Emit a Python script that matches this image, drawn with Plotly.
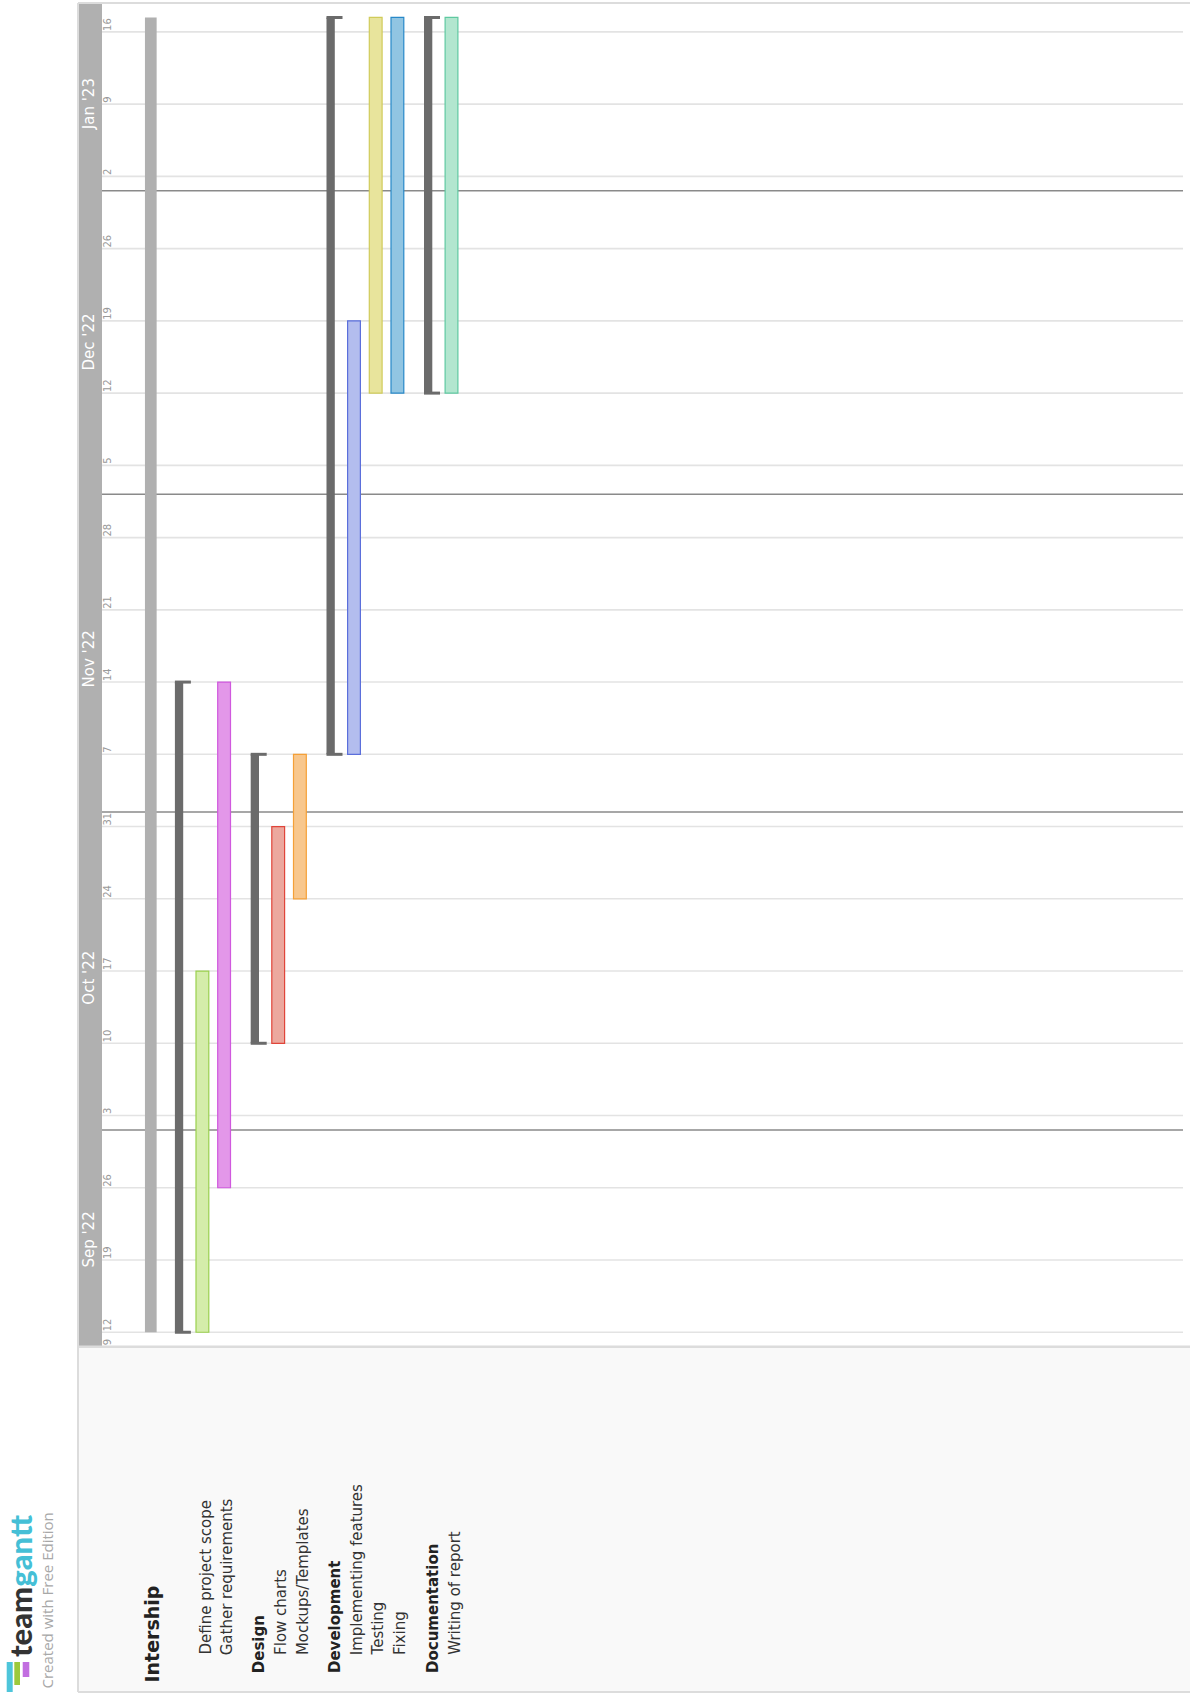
import plotly.graph_objects as go
import pandas as pd

W, H = 1190, 1695

# ---------------- data ----------------
row_names = ["Intership", "", "Define project scope", "Gather requirements",
             "Design", "Flow charts", "Mockups/Templates",
             "Development", "Implementing features", "Testing", "Fixing",
             "Documentation", "Writing of report"]
row_kinds = ["project", "group", "task", "task",
             "group", "task", "task",
             "group", "task", "task", "task",
             "group", "task"]
row_starts = ["2022-09-12", "2022-09-12", "2022-09-12", "2022-09-26",
              "2022-10-10", "2022-10-10", "2022-10-24",
              "2022-11-07", "2022-11-07", "2022-12-12", "2022-12-12",
              "2022-12-12", "2022-12-12"]
row_last_days = ["2023-01-16", "2022-11-11", "2022-10-14", "2022-11-11",
                 "2022-11-04", "2022-10-28", "2022-11-04",
                 "2023-01-16", "2022-12-16", "2023-01-16", "2023-01-16",
                 "2023-01-16", "2023-01-16"]
fill_colors = ["#b0b0b0", "#6b6b6b", "#d4edaa", "#e397e9",
               "#6b6b6b", "#eca89e", "#f8c78d",
               "#6b6b6b", "#b3bdee", "#e8e49c", "#91c5e2",
               "#6b6b6b", "#b2e6cf"]
line_colors = ["#b0b0b0", "#6b6b6b", "#9ad04e", "#d058de",
               "#6b6b6b", "#e0453a", "#f5a037",
               "#6b6b6b", "#5b6fdb", "#d0cb5a", "#2788c8",
               "#6b6b6b", "#5fc9a1"]

week_label_dates = ["2022-09-09", "2022-09-12", "2022-09-19", "2022-09-26",
                    "2022-10-03", "2022-10-10", "2022-10-17", "2022-10-24",
                    "2022-10-31", "2022-11-07", "2022-11-14", "2022-11-21",
                    "2022-11-28", "2022-12-05", "2022-12-12", "2022-12-19",
                    "2022-12-26", "2023-01-02", "2023-01-09", "2023-01-16"]
week_labels = ["9", "12", "19", "26", "3", "10", "17", "24", "31", "7", "14",
               "21", "28", "5", "12", "19", "26", "2", "9", "16"]
month_names = ["Sep '22", "Oct '22", "Nov '22", "Dec '22", "Jan '23"]
month_label_dates = ["2022-09-20 10:00", "2022-10-14 13:00", "2022-11-15 13:30",
                     "2022-12-15 12:00", "2023-01-09 00:00"]
month_divider_dates = ["2022-09-30", "2022-11-01", "2022-12-01", "2022-12-30"]
axis_start, axis_end = "2022-09-09", "2023-01-18"

# ---------------- layout helpers ----------------
PLOT_TOP, PLOT_BOTTOM, FRAME_BOTTOM = 3, 1346.7, 1692
FRAME_LEFT, BAND_RIGHT, GRID_RIGHT = 78, 102, 1183
ROW_PITCH, GROUP_EXTRA, FIRST_ROW = 21.7, 10.7, 151.0


def py(p):
    return 1 - p / H


row_pos = []
for i, k in enumerate(row_kinds):
    if i == 0:
        row_pos.append(FIRST_ROW)
    else:
        row_pos.append(row_pos[-1] + ROW_PITCH + (GROUP_EXTRA if k == "group" else 0))

starts = [pd.Timestamp(s) for s in row_starts]
ends = [pd.Timestamp(e) + pd.offsets.BDay(1) for e in row_last_days]
durs = [(e - s).total_seconds() * 1000 for s, e in zip(starts, ends)]

fig = go.Figure()

# project bar
pi = [i for i, k in enumerate(row_kinds) if k == "project"]
fig.add_trace(go.Bar(
    x=[row_pos[i] - 0.2 for i in pi], y=[durs[i] for i in pi],
    base=[row_starts[i] for i in pi], width=11.7,
    marker=dict(color=[fill_colors[i] for i in pi], line=dict(width=0)),
    hoverinfo="skip", showlegend=False))

# group brackets (vertical part)
gi = [i for i, k in enumerate(row_kinds) if k == "group"]
fig.add_trace(go.Bar(
    x=[row_pos[i] - 8.5 + 4.15 for i in gi], y=[durs[i] for i in gi],
    base=[row_starts[i] for i in gi], width=8.3,
    marker=dict(color=[fill_colors[i] for i in gi], line=dict(width=0)),
    hoverinfo="skip", showlegend=False))

# group bracket end ticks
tx, ty = [], []
for i in gi:
    l, r = row_pos[i] - 8.5, row_pos[i] + 7.5
    tx += [l, r, None, l, r, None]
    ty += [ends[i], ends[i], None, starts[i], starts[i], None]
fig.add_trace(go.Scatter(x=tx, y=ty, mode="lines",
                         line=dict(color="#6b6b6b", width=3),
                         hoverinfo="skip", showlegend=False))

# task bars
ti = [i for i, k in enumerate(row_kinds) if k == "task"]
fig.add_trace(go.Bar(
    x=[row_pos[i] - 2.7 for i in ti], y=[durs[i] for i in ti],
    base=[row_starts[i] for i in ti], width=12.8,
    marker=dict(color=[fill_colors[i] for i in ti],
                line=dict(color=[line_colors[i] for i in ti], width=1.2)),
    hoverinfo="skip", showlegend=False))

shapes = []
# label area background
shapes.append(dict(type="rect", xref="paper", yref="paper",
                   x0=FRAME_LEFT / W, x1=1, y0=py(FRAME_BOTTOM), y1=py(PLOT_BOTTOM),
                   fillcolor="#f9f9f9", line=dict(width=0), layer="below"))
# month header band
shapes.append(dict(type="rect", xref="paper", yref="paper",
                   x0=FRAME_LEFT / W, x1=BAND_RIGHT / W, y0=py(PLOT_BOTTOM), y1=py(PLOT_TOP),
                   fillcolor="#b0b0b0", line=dict(width=0), layer="below"))
# week gridlines
for d in week_label_dates[1:]:
    shapes.append(dict(type="line", xref="x", yref="y", x0=BAND_RIGHT, x1=GRID_RIGHT,
                       y0=d, y1=d, line=dict(color="#e3e3e3", width=1.6), layer="below"))
# month dividers
for d in month_divider_dates:
    shapes.append(dict(type="line", xref="x", yref="y", x0=BAND_RIGHT, x1=GRID_RIGHT,
                       y0=d, y1=d, line=dict(color="#8a8a8a", width=1.5), layer="below"))
# frame lines
fc = "#dcdcdc"
shapes += [
    dict(type="line", xref="paper", yref="paper", x0=FRAME_LEFT / W, x1=FRAME_LEFT / W,
         y0=py(FRAME_BOTTOM), y1=py(PLOT_TOP), line=dict(color=fc, width=2)),
    dict(type="line", xref="paper", yref="paper", x0=FRAME_LEFT / W, x1=1,
         y0=py(PLOT_TOP), y1=py(PLOT_TOP), line=dict(color=fc, width=2)),
    dict(type="line", xref="paper", yref="paper", x0=FRAME_LEFT / W, x1=1,
         y0=py(PLOT_BOTTOM), y1=py(PLOT_BOTTOM), line=dict(color=fc, width=2.5)),
    dict(type="line", xref="paper", yref="paper", x0=FRAME_LEFT / W, x1=1,
         y0=py(FRAME_BOTTOM), y1=py(FRAME_BOTTOM), line=dict(color=fc, width=2)),
]
# logo icon bars
shapes += [
    dict(type="rect", xref="paper", yref="paper", x0=6.7 / W, x1=12.7 / W,
         y0=py(1692), y1=py(1662), fillcolor="#4ec5da", line=dict(width=0)),
    dict(type="rect", xref="paper", yref="paper", x0=14.3 / W, x1=20 / W,
         y0=py(1685), y1=py(1662), fillcolor="#9cc93b", line=dict(width=0)),
    dict(type="rect", xref="paper", yref="paper", x0=22.7 / W, x1=29.3 / W,
         y0=py(1677), y1=py(1662), fillcolor="#c26ee0", line=dict(width=0)),
]

FONT = "DejaVu Sans"
ann = []
# row labels
for name, kind, pos in zip(row_names, row_kinds, row_pos):
    if not name:
        continue
    if kind == "project":
        txt, size, bottom, col = f"<b>{name}</b>", 19, 1685, "#222"
    elif kind == "group":
        txt, size, bottom, col = f"<b>{name}</b>", 15, 1675, "#222"
    else:
        txt, size, bottom, col = name, 15, 1657, "#333"
    ann.append(dict(x=pos, y=py(bottom), xref="x", yref="paper", text=txt,
                    textangle=-90, showarrow=False, xanchor="center", yanchor="bottom",
                    font=dict(family=FONT, size=size, color=col)))
# week labels
for d, lab in zip(week_label_dates, week_labels):
    ann.append(dict(x=107.5, y=d, xref="x", yref="y", text=lab, textangle=-90,
                    showarrow=False, xanchor="center", yanchor="bottom", borderpad=0,
                    font=dict(family=FONT, size=10, color="#9a9a9a")))
# month labels
for d, lab in zip(month_label_dates, month_names):
    ann.append(dict(x=89, y=d, xref="x", yref="y", text=lab, textangle=-90,
                    showarrow=False, xanchor="center", yanchor="middle",
                    font=dict(family=FONT, size=15, color="white")))
# logo text
ann.append(dict(x=0.0, y=py(1658), xref="paper", yref="paper",
                text="<span style='color:#333333'>team</span><span style='color:#45bfd6'>gantt</span>",
                textangle=-90, showarrow=False, xanchor="left", yanchor="bottom", borderpad=0,
                font=dict(family="Lato", size=31, color="#333", weight=900)))
ann.append(dict(x=46.5 / W, y=py(1691), xref="paper", yref="paper",
                text="Created with Free Edition", textangle=-90, showarrow=False,
                xanchor="center", yanchor="bottom",
                font=dict(family="Open Sans", size=15, color="#a8a8a8")))

hidden_axis = dict(showgrid=False, zeroline=False, showline=False, ticks="",
                   showticklabels=False, fixedrange=True)
fig.update_layout(
    width=W, height=H, margin=dict(l=0, r=0, t=0, b=0),
    paper_bgcolor="white", plot_bgcolor="white",
    barmode="overlay", showlegend=False,
    xaxis=dict(range=[0, W], domain=[0, 1], **hidden_axis),
    yaxis=dict(type="date", range=[axis_start, axis_end],
               domain=[py(PLOT_BOTTOM), py(PLOT_TOP)],
               rangebreaks=[dict(bounds=["sat", "mon"])],
               **hidden_axis),
    shapes=shapes, annotations=ann,
)

fig.write_html("out.html", config={"displayModeBar": False},
               post_script="document.body.style.margin='0';document.body.style.overflow='hidden';")
